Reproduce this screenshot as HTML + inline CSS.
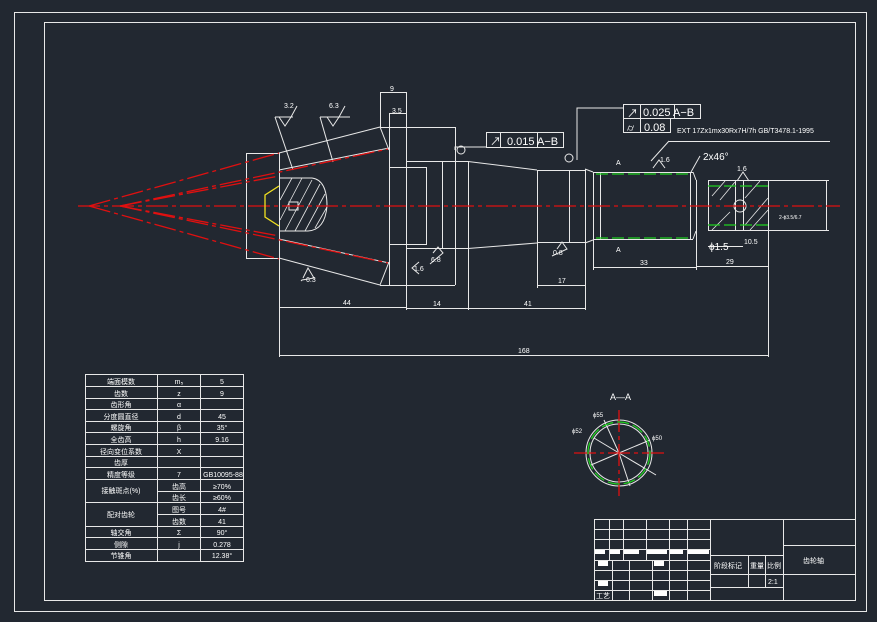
<!DOCTYPE html>
<html><head><meta charset="utf-8"><style>
html,body{margin:0;padding:0;background:#222831;}
svg{display:block}
text{font-family:"Liberation Sans","Noto Sans CJK SC",sans-serif;fill:#fff}
</style></head><body>
<svg width="877" height="622" viewBox="0 0 877 622" xmlns="http://www.w3.org/2000/svg">
<rect width="877" height="622" fill="#222831"/>
<g fill="none" stroke="#e8e8e8" stroke-width="1">
<rect x="14.5" y="12.5" width="852" height="599"/>
<rect x="44.5" y="22.5" width="811" height="578"/>
<!-- left cone -->
<rect x="246.5" y="153.5" width="33" height="105"/>
<line x1="279.5" y1="153" x2="279.5" y2="357"/>
<line x1="279" y1="153" x2="380" y2="127"/>
<line x1="380" y1="127" x2="389" y2="150"/>
<line x1="279" y1="170" x2="389" y2="148"/>
<line x1="279" y1="258" x2="380" y2="285"/>
<line x1="380" y1="285" x2="389" y2="262"/>
<line x1="279" y1="239" x2="389" y2="263"/>
<line x1="389.5" y1="113" x2="389.5" y2="285"/>
<line x1="406.5" y1="92" x2="406.5" y2="310"/>
<line x1="380" y1="127.5" x2="455" y2="127.5"/>
<line x1="380" y1="285.5" x2="455" y2="285.5"/>
<line x1="455.5" y1="127" x2="455.5" y2="285"/>
<rect x="389.5" y="167.5" width="37" height="77"/>
<line x1="406" y1="161.5" x2="468" y2="161.5"/>
<line x1="406" y1="248.5" x2="468" y2="248.5"/>
<line x1="442.5" y1="161" x2="442.5" y2="248"/>
<!-- hatched D -->
<path d="M279 178 L312 178 Q327 180 327 206 Q325 230 308 231 L279 231"/>
<g stroke-width="0.8"><line x1="285" y1="231" x2="312" y2="180"/><line x1="295" y1="231" x2="320" y2="184"/><line x1="305" y1="231" x2="325" y2="194"/><line x1="280" y1="220" x2="302" y2="178"/><line x1="280" y1="200" x2="292" y2="178"/><line x1="315" y1="228" x2="327" y2="207"/></g>
<rect x="289" y="202" width="9" height="8"/>
<!-- middle shaft -->
<line x1="468" y1="161.5" x2="537" y2="170"/>
<line x1="468" y1="248.5" x2="537" y2="243"/>
<line x1="468.5" y1="161" x2="468.5" y2="310"/>
<line x1="537" y1="170.5" x2="585" y2="170.5"/>
<line x1="537" y1="242.5" x2="585" y2="242.5"/>
<line x1="537.5" y1="170" x2="537.5" y2="288"/>
<line x1="569.5" y1="170" x2="569.5" y2="243"/>
<line x1="585.5" y1="169" x2="585.5" y2="310"/>
<line x1="585" y1="169" x2="593" y2="172"/><line x1="585" y1="243" x2="593" y2="240"/>
<line x1="593" y1="172.5" x2="693" y2="172.5"/>
<line x1="593" y1="239.5" x2="693" y2="239.5"/>
<line x1="593.5" y1="172" x2="593.5" y2="270"/>
<line x1="600.5" y1="172" x2="600.5" y2="239"/>
<line x1="690.5" y1="172" x2="690.5" y2="239"/>
<line x1="693" y1="172" x2="696" y2="180"/><line x1="693" y1="239" x2="696" y2="231"/>
<line x1="696.5" y1="180" x2="696.5" y2="270"/>
<rect x="708.5" y="180.5" width="60" height="50"/>
<line x1="768" y1="180.5" x2="829" y2="180.5"/><line x1="768" y1="230.5" x2="829" y2="230.5"/>
<line x1="826.5" y1="181" x2="826.5" y2="230"/>
<line x1="735.5" y1="180" x2="735.5" y2="231"/><line x1="743.5" y1="180" x2="743.5" y2="231"/>
<g stroke-width="0.8"><line x1="720" y1="200" x2="735" y2="182"/><line x1="712" y1="196" x2="725" y2="181"/><line x1="745" y1="198" x2="760" y2="181"/><line x1="750" y1="230" x2="768" y2="210"/><line x1="745" y1="225" x2="768" y2="198"/><line x1="712" y1="230" x2="730" y2="212"/></g>
<circle cx="740" cy="206" r="6"/>
<!-- dimensions -->
<line x1="279" y1="307.5" x2="406" y2="307.5"/>
<line x1="406" y1="308.5" x2="468" y2="308.5"/>
<line x1="468" y1="308.5" x2="585" y2="308.5"/>
<line x1="537" y1="285.5" x2="585" y2="285.5"/>
<line x1="594" y1="267.5" x2="696" y2="267.5"/>
<line x1="696" y1="266.5" x2="768" y2="266.5"/>
<line x1="768.5" y1="231" x2="768.5" y2="357"/>
<line x1="279" y1="355.5" x2="768" y2="355.5"/>
<line x1="380.5" y1="92" x2="380.5" y2="127"/><line x1="380" y1="92.5" x2="406" y2="92.5"/>
<line x1="389" y1="113.5" x2="406" y2="113.5"/>
<line x1="708" y1="246.5" x2="743" y2="246.5"/>
<!-- leaders -->
<polyline points="455,150 455,147 486,147"/>
<polyline points="577,160 577,108 623,108"/>
<line x1="651" y1="161" x2="669" y2="141"/><line x1="669" y1="141.5" x2="830" y2="141.5"/>
<line x1="691" y1="172" x2="700" y2="156"/>
<!-- roughness -->
<polyline points="275,117 293,117"/><polyline points="279,117 285,126 291,117 297,106"/><line x1="275" y1="117" x2="293" y2="170"/>
<polyline points="320,117 350,117"/><polyline points="327,117 333,126 339,117 345,106"/><line x1="320" y1="117" x2="333" y2="162"/>
<polyline points="303,278 308,268 314,278 302,280 301,281"/>
<polyline points="653,168 659,160 665,168"/><polyline points="737,181 743,172 749,181"/>
<polyline points="557,249 562,242 567,249 552,256"/>
<polyline points="433,253 438,247 443,253 430,264"/>
<polyline points="419,262 412,268 419,274"/>
<!-- FCF -->
<rect x="486.5" y="132.5" width="77" height="15"/><line x1="500.5" y1="132" x2="500.5" y2="147"/><line x1="537.5" y1="132" x2="537.5" y2="147"/>
<rect x="623.5" y="104.5" width="77" height="14"/><line x1="640.5" y1="104" x2="640.5" y2="133"/><line x1="674.5" y1="104" x2="674.5" y2="118"/>
<rect x="623.5" y="118.5" width="47" height="14"/>
<circle cx="461" cy="150" r="4"/><circle cx="569" cy="158" r="4"/>
<!-- table -->
<rect x="85.5" y="374.5" width="158" height="187"/>
<line x1="157.5" y1="374" x2="157.5" y2="561"/><line x1="200.5" y1="374" x2="200.5" y2="561"/>
<!-- title block -->
<rect x="594.5" y="519.5" width="261" height="81"/>
<line x1="710.5" y1="519" x2="710.5" y2="600"/><line x1="783.5" y1="519" x2="783.5" y2="600"/>
<line x1="783" y1="545.5" x2="855" y2="545.5"/><line x1="710" y1="574.5" x2="855" y2="574.5"/>
<line x1="710" y1="587.5" x2="783" y2="587.5"/>
<line x1="710" y1="555.5" x2="783" y2="555.5"/>
<line x1="748.5" y1="555" x2="748.5" y2="587"/><line x1="765.5" y1="555" x2="765.5" y2="587"/>
<line x1="594" y1="529.5" x2="710" y2="529.5"/><line x1="594" y1="539.5" x2="710" y2="539.5"/><line x1="594" y1="549.5" x2="710" y2="549.5"/><line x1="594" y1="560.5" x2="710" y2="560.5"/><line x1="594" y1="570.5" x2="710" y2="570.5"/><line x1="594" y1="580.5" x2="710" y2="580.5"/><line x1="594" y1="590.5" x2="710" y2="590.5"/>
<line x1="609.5" y1="519" x2="609.5" y2="560"/><line x1="623.5" y1="519" x2="623.5" y2="560"/><line x1="646.5" y1="519" x2="646.5" y2="560"/><line x1="669.5" y1="519" x2="669.5" y2="600"/><line x1="687.5" y1="519" x2="687.5" y2="600"/>
<line x1="612.5" y1="560" x2="612.5" y2="600"/><line x1="629.5" y1="560" x2="629.5" y2="600"/><line x1="652.5" y1="560" x2="652.5" y2="600"/>
<!-- section A-A -->
<circle cx="619" cy="453" r="33"/><circle cx="619" cy="453" r="29"/>
<line x1="619" y1="453" x2="604" y2="420"/><line x1="619" y1="453" x2="650" y2="440"/><line x1="619" y1="453" x2="594" y2="438"/>
<line x1="619" y1="453" x2="656" y2="475"/><line x1="619" y1="453" x2="630" y2="486"/><line x1="619" y1="453" x2="591" y2="465"/>
</g>
<!-- table rows -->
<g stroke="#e8e8e8" stroke-width="1">
<line x1="85" y1="386.5" x2="243" y2="386.5"/><line x1="85" y1="398.5" x2="243" y2="398.5"/><line x1="85" y1="409.5" x2="243" y2="409.5"/><line x1="85" y1="421.5" x2="243" y2="421.5"/><line x1="85" y1="432.5" x2="243" y2="432.5"/><line x1="85" y1="444.5" x2="243" y2="444.5"/><line x1="85" y1="456.5" x2="243" y2="456.5"/><line x1="85" y1="467.5" x2="243" y2="467.5"/><line x1="85" y1="479.5" x2="243" y2="479.5"/><line x1="157" y1="491.5" x2="243" y2="491.5"/><line x1="85" y1="502.5" x2="243" y2="502.5"/><line x1="157" y1="514.5" x2="243" y2="514.5"/><line x1="85" y1="526.5" x2="243" y2="526.5"/><line x1="85" y1="537.5" x2="243" y2="537.5"/><line x1="85" y1="549.5" x2="243" y2="549.5"/>
</g>
<!-- red centerlines -->
<g stroke="#e01010" stroke-width="1.3" fill="none" stroke-dasharray="22,4,4,4">
<line x1="78" y1="206" x2="840" y2="206"/>
<line x1="89" y1="206" x2="279" y2="153"/><line x1="89" y1="206" x2="279" y2="259"/>
<line x1="120" y1="206" x2="388" y2="149"/><line x1="120" y1="206" x2="388" y2="263"/>
<line x1="120" y1="206" x2="279" y2="176"/><line x1="120" y1="206" x2="279" y2="236"/>
<line x1="619" y1="410" x2="619" y2="496"/><line x1="574" y1="453" x2="666" y2="453"/>
</g>
<g stroke="#20d020" stroke-width="1.3" fill="none" stroke-dasharray="12,4">
<line x1="596" y1="174" x2="690" y2="174"/><line x1="596" y1="238" x2="690" y2="238"/>
<line x1="708" y1="186" x2="768" y2="186"/><line x1="708" y1="225" x2="768" y2="225"/>
<circle cx="619" cy="453" r="31"/>
</g>
<polyline points="279,186 265,195 265,217 279,226" fill="none" stroke="#f0e020" stroke-width="1.3"/>
<!-- texts -->
<g font-size="7">
<text x="343" y="305">44</text><text x="433" y="306">14</text><text x="524" y="306">41</text><text x="558" y="283">17</text><text x="640" y="265">33</text><text x="726" y="264">29</text><text x="518" y="353">168</text>
<text x="390" y="91">9</text><text x="392" y="113">3.5</text>
<text x="284" y="108">3.2</text><text x="329" y="108">6.3</text><text x="306" y="282">6.3</text>
<text x="553" y="255">0.8</text><text x="431" y="262">6.8</text><text x="414" y="271">1.6</text>
<text x="660" y="162">1.6</text><text x="737" y="171">1.6</text>
<text x="744" y="244">10.5</text>
<text x="616" y="165">A</text><text x="616" y="252">A</text>
<text x="779" y="219" font-size="5">2-ϕ3.5/6.7</text>
<text x="677" y="133" font-size="7">EXT 17Zx1mx30Rx7H/7h GB/T3478.1-1995</text>
</g>
<text x="703" y="160" font-size="10">2x46°</text>
<text x="709" y="250" font-size="10">ϕ1.5</text>
<text x="507" y="145" font-size="11">0.015 A−B</text>
<text x="643" y="116" font-size="11">0.025 A−B</text>
<text x="644" y="131" font-size="11">0.08</text>
<text x="490" y="145" font-size="11">↗</text><text x="627" y="117" font-size="11">↗</text><text x="627" y="131" font-size="10">⌭</text>
<text x="610" y="400" font-size="9">A—A</text>
<text x="593" y="417" font-size="6">ϕ55</text><text x="572" y="433" font-size="6">ϕ52</text><text x="652" y="440" font-size="6">ϕ50</text>
<!-- table text -->
<g font-size="7" text-anchor="middle">
<text x="121" y="384">端面模数</text><text x="179" y="384">m₅</text><text x="222" y="384">5</text>
<text x="121" y="396">齿数</text><text x="179" y="396">z</text><text x="222" y="396">9</text>
<text x="121" y="407">齿形角</text><text x="179" y="407">α</text>
<text x="121" y="419">分度圆直径</text><text x="179" y="419">d</text><text x="222" y="419">45</text>
<text x="121" y="430">螺旋角</text><text x="179" y="430">β</text><text x="222" y="430">35°</text>
<text x="121" y="442">全齿高</text><text x="179" y="442">h</text><text x="222" y="442">9.16</text>
<text x="121" y="454">径向变位系数</text><text x="179" y="454">X</text>
<text x="121" y="465">齿厚</text>
<text x="121" y="477">精度等级</text><text x="179" y="477">7</text><text x="223" y="477">GB10095-88</text>
<text x="121" y="493">接触斑点(%)</text><text x="179" y="489">齿高</text><text x="222" y="489">≥70%</text><text x="179" y="500">齿长</text><text x="222" y="500">≥60%</text>
<text x="121" y="517">配对齿轮</text><text x="179" y="512">图号</text><text x="222" y="512">4#</text><text x="179" y="524">齿数</text><text x="222" y="524">41</text>
<text x="121" y="535">轴交角</text><text x="179" y="535">Σ</text><text x="222" y="535">90°</text>
<text x="121" y="547">侧隙</text><text x="179" y="547">j</text><text x="222" y="547">0.278</text>
<text x="121" y="558">节锥角</text><text x="222" y="558">12.38°</text>
</g>
<g font-size="7">
<text x="714" y="568">阶段标记</text><text x="750" y="568">重量</text><text x="767" y="568">比例</text>
<text x="768" y="584">2:1</text><text x="803" y="563">齿轮轴</text><text x="596" y="598">工艺</text>
</g>
<g fill="#fff"><rect x="595" y="550" width="10" height="4"/><rect x="610" y="550" width="10" height="4"/><rect x="624" y="550" width="15" height="4"/><rect x="647" y="550" width="20" height="4"/><rect x="670" y="550" width="13" height="4"/><rect x="688" y="550" width="21" height="4"/><rect x="598" y="561" width="10" height="5"/><rect x="654" y="561" width="10" height="5"/><rect x="598" y="581" width="10" height="5"/><rect x="654" y="591" width="13" height="5"/></g>
</svg>
</body></html>
